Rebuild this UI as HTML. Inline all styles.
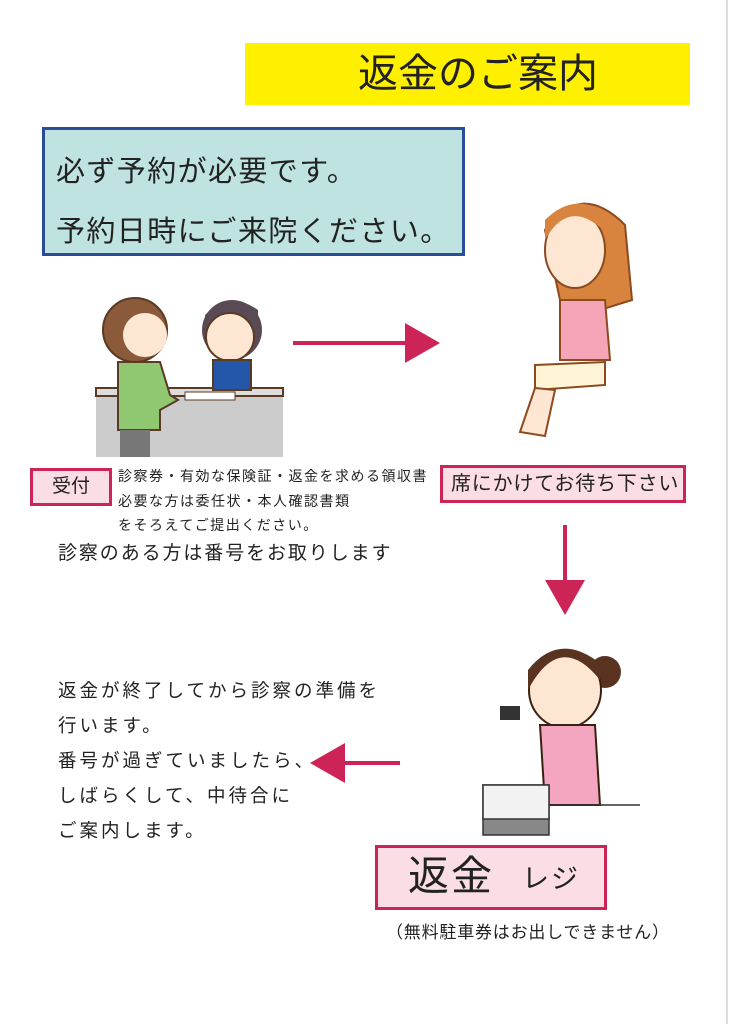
<!DOCTYPE html>
<html><head><meta charset="utf-8"><style>
html,body{margin:0;padding:0;}
body{width:729px;height:1024px;position:relative;background:#fff;overflow:hidden;font-family:"Liberation Sans","Noto Sans CJK JP",sans-serif;color:#222;}
.a{position:absolute;white-space:nowrap;line-height:1;}
.pink{position:absolute;background:#fadde5;border:3px solid #cc2457;box-sizing:border-box;}
</style></head><body>
<div style="position:absolute;left:726px;top:0;width:2px;height:1024px;background:#ddd"></div>
<div class="a" style="left:245px;top:43px;width:445px;height:62px;background:#fff000"></div>
<div class="a" style="left:358px;top:54px;font-size:40px;">返金のご案内</div>
<div class="a" style="left:42px;top:127px;width:423px;height:129px;background:#bfe3e0;border:3px solid #2b4d97;box-sizing:border-box"></div>
<div class="a" style="left:56px;top:158px;font-size:29px;letter-spacing:1.4px">必ず予約が必要です。</div>
<div class="a" style="left:56px;top:218px;font-size:29px;letter-spacing:1.4px">予約日時にご来院ください。</div>

<svg class="a" style="left:0;top:0" width="729" height="1024">
 <rect x="96" y="388" width="187" height="69" fill="#ccc"/>
 <rect x="96" y="388" width="187" height="8" fill="#ddd" stroke="#5a3a22" stroke-width="2"/>
 <circle cx="232" cy="330" r="30" fill="#5a4a55" />
 <circle cx="230" cy="337" r="24" fill="#fde7d3" stroke="#5a3a22" stroke-width="2"/>
 <path d="M205 325 Q230 295 258 325 L258 310 Q230 290 205 315Z" fill="#5a4a55"/>
 <rect x="213" y="360" width="38" height="30" fill="#2457a8" stroke="#5a3a22" stroke-width="2"/>
 <circle cx="135" cy="330" r="32" fill="#8b5a3a" stroke="#5a3a22" stroke-width="2"/>
 <circle cx="145" cy="335" r="22" fill="#fde7d3"/>
 <path d="M118 362 L160 362 L170 395 L178 400 L160 410 L160 430 L118 430Z" fill="#8fc870" stroke="#5a3a22" stroke-width="2"/>
 <rect x="120" y="430" width="30" height="27" fill="#777"/>
 <rect x="185" y="392" width="50" height="8" fill="#fff" stroke="#5a3a22" stroke-width="1"/>
 <line x1="293" y1="343" x2="410" y2="343" stroke="#cc2457" stroke-width="4"/>
 <polygon points="405,323 440,343 405,363" fill="#cc2457"/>
 <path d="M545 230 Q580 180 625 225 L632 300 L600 310 L560 300Z" fill="#d9843e" stroke="#8b4a20" stroke-width="2"/>
 <ellipse cx="575" cy="250" rx="30" ry="38" fill="#fde7d3" stroke="#8b4a20" stroke-width="2"/>
 <path d="M545 240 Q570 195 608 235 L610 215 Q575 190 545 220Z" fill="#d9843e"/>
 <path d="M560 300 L605 300 L610 360 L560 360Z" fill="#f4a6b8" stroke="#8b4a20" stroke-width="2"/>
 <path d="M535 365 L605 362 L605 385 L535 390Z" fill="#fff4d6" stroke="#8b4a20" stroke-width="2"/>
 <path d="M535 388 L520 432 L545 436 L555 390Z" fill="#fde7d3" stroke="#8b4a20" stroke-width="2"/>
 <line x1="565" y1="525" x2="565" y2="585" stroke="#cc2457" stroke-width="4"/>
 <polygon points="545,580 585,580 565,615" fill="#cc2457"/>
 <line x1="400" y1="763" x2="340" y2="763" stroke="#cc2457" stroke-width="4"/>
 <polygon points="345,743 310,763 345,783" fill="#cc2457"/>
 <circle cx="605" cy="672" r="16" fill="#5a3320"/>
 <ellipse cx="565" cy="690" rx="36" ry="38" fill="#fde7d3" stroke="#3a2010" stroke-width="2"/>
 <path d="M528 690 Q560 630 600 680 L602 665 Q560 630 528 670Z" fill="#5a3320"/>
 <path d="M540 725 L595 725 L600 805 L545 805Z" fill="#f4a6c0" stroke="#3a2010" stroke-width="2"/>
 <rect x="500" y="706" width="20" height="14" fill="#333"/>
 <rect x="483" y="785" width="66" height="50" fill="#888" stroke="#333" stroke-width="1.5"/>
 <rect x="483" y="785" width="66" height="34" fill="#f2f2f2" stroke="#333" stroke-width="1.5"/>
 <line x1="550" y1="805" x2="640" y2="805" stroke="#333" stroke-width="1.5"/>
</svg>

<div class="pink" style="left:30px;top:468px;width:82px;height:38px;"></div>
<div class="a" style="left:52px;top:477px;font-size:19px;">受付</div>
<div class="a" style="left:118px;top:469px;font-size:14px;letter-spacing:1.5px">診察券・有効な保険証・返金を求める領収書</div>
<div class="a" style="left:118px;top:494px;font-size:14px;letter-spacing:1.5px">必要な方は委任状・本人確認書類</div>
<div class="a" style="left:118px;top:518px;font-size:14px;letter-spacing:1.5px">をそろえてご提出ください。</div>
<div class="pink" style="left:440px;top:465px;width:246px;height:38px;"></div>
<div class="a" style="left:451px;top:474px;font-size:20px;letter-spacing:0.8px">席にかけてお待ち下さい</div>
<div class="a" style="left:58px;top:544px;font-size:19px;letter-spacing:1.9px">診察のある方は番号をお取りします</div>
<div class="a" style="left:58px;top:673px;font-size:18.5px;letter-spacing:3px;line-height:35px;white-space:normal;width:340px">返金が終了してから診察の準備を<br>行います。<br>番号が過ぎていましたら、<br>しばらくして、中待合に<br>ご案内します。</div>
<div class="pink" style="left:375px;top:845px;width:232px;height:65px;"></div>
<div class="a" style="left:408px;top:856px;font-size:41px;letter-spacing:2px">返金</div>
<div class="a" style="left:522px;top:866px;font-size:27px;letter-spacing:2px">レジ</div>
<div class="a" style="left:386px;top:924px;font-size:17px;letter-spacing:0.8px">（無料駐車券はお出しできません）</div>
</body></html>
